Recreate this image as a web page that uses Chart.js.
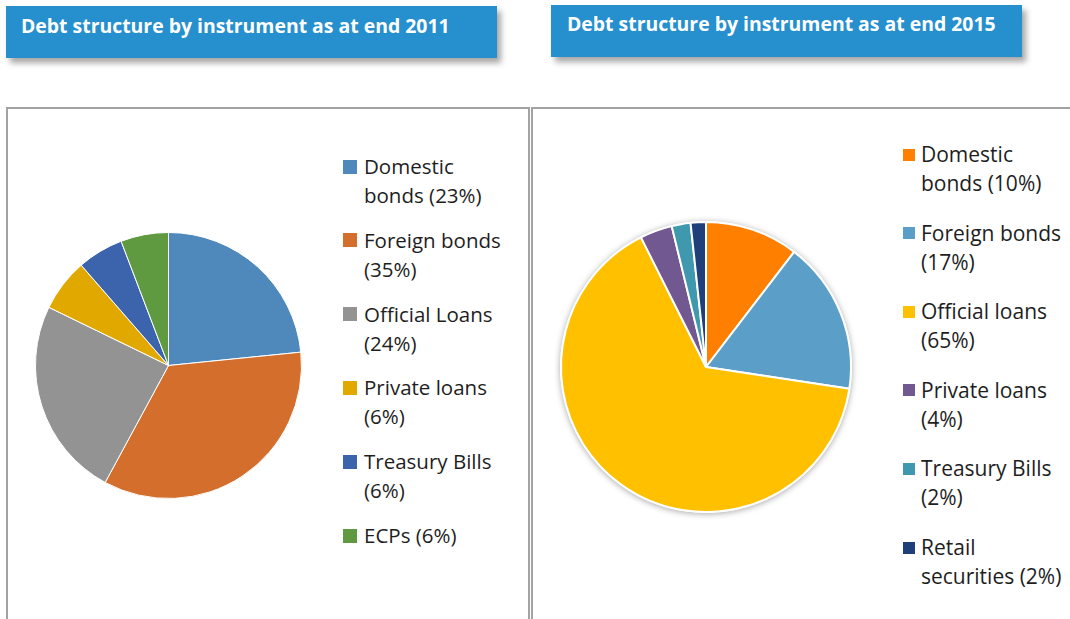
<!DOCTYPE html>
<html><head><meta charset="utf-8">
<script src="https://cdn.jsdelivr.net/npm/chart.js@4"></script>
<style>
html,body{margin:0;padding:0;background:#fff;width:1070px;height:619px;overflow:hidden;font-family:"Open Sans",Lato,sans-serif;}
.title{position:absolute;background:#268fce;color:#fff;font-weight:bold;font-size:17px;box-shadow:4px 5px 6px rgba(0,0,0,0.35);box-sizing:border-box;}
.title span{position:absolute;white-space:nowrap;line-height:20px;}
.frame{position:absolute;border:2px solid #a3a3a3;box-sizing:border-box;}
.cw{position:absolute;}
.leg{position:absolute;color:#1e1e1e;line-height:29px;}
.item{position:absolute;left:0;white-space:nowrap;}
.sw{position:absolute;}
.txt{position:absolute;}
</style></head><body>
<div class="title" style="left:6px;top:6px;width:491px;height:52px;"><span id="t1" style="left:15px;top:10px;"></span></div>
<div class="title" style="left:551px;top:5px;width:471px;height:52px;"><span id="t2" style="left:16px;top:9px;"></span></div>
<div class="frame" style="left:6px;top:107px;width:524px;height:530px;"></div>
<div class="frame" style="left:531px;top:107px;width:560px;height:530px;"></div>
<div class="cw" style="left:35px;top:232px;width:267px;height:267px;"><canvas id="c1"></canvas></div>
<div class="cw" style="left:550px;top:211px;width:312px;height:312px;"><canvas id="c2"></canvas></div>
<div class="leg" id="l1" style="left:343px;top:152px;font-size:20.5px;"></div>
<div class="leg" id="l2" style="left:903px;top:140px;font-size:21px;"></div>
<script>
const title2011 = "Debt structure by instrument as at end 2011";
const title2015 = "Debt structure by instrument as at end 2015";

const categories2011 = ["Domestic bonds", "Foreign bonds", "Official Loans", "Private loans", "Treasury Bills", "ECPs"];
const legendLines2011 = [["Domestic", "bonds (23%)"], ["Foreign bonds", "(35%)"], ["Official Loans", "(24%)"], ["Private loans", "(6%)"], ["Treasury Bills", "(6%)"], ["ECPs (6%)"]];
const values2011 = [23.4, 34.5, 24.3, 6.4, 5.6, 5.8];
const colors2011 = ["#4f89bc", "#d36e2d", "#939393", "#e1a900", "#3c64ad", "#5f9940"];

const categories2015 = ["Domestic bonds", "Foreign bonds", "Official loans", "Private loans", "Treasury Bills", "Retail securities"];
const legendLines2015 = [["Domestic", "bonds (10%)"], ["Foreign bonds", "(17%)"], ["Official loans", "(65%)"], ["Private loans", "(4%)"], ["Treasury Bills", "(2%)"], ["Retail", "securities (2%)"]];
const values2015 = [10.4, 17.0, 65.2, 3.6, 2.1, 1.7];
const colors2015 = ["#ff8000", "#5b9fc9", "#ffc000", "#725890", "#3f98ad", "#1f3f7b"];

document.getElementById('t1').textContent = title2011;
document.getElementById('t2').textContent = title2015;

// fit title text width to the reference (about 429px)
['t1','t2'].forEach(id => {
  const el = document.getElementById(id);
  const w = el.getBoundingClientRect().width;
  if (w > 0) el.style.fontSize = (17 * 429 / w).toFixed(2) + 'px';
});

function buildLegend(id, lines, colors, spacing, box, textX) {
  const el = document.getElementById(id);
  lines.forEach((ls, i) => {
    const it = document.createElement('div');
    it.className = 'item';
    it.style.top = (i * spacing) + 'px';
    const sw = document.createElement('div');
    sw.className = 'sw';
    sw.style.cssText = `left:0;top:${(29 - box) / 2}px;width:${box}px;height:${box}px;background:${colors[i]};`;
    const tx = document.createElement('div');
    tx.className = 'txt';
    tx.style.left = textX + 'px';
    tx.style.top = '0px';
    tx.innerHTML = ls.map(s => s.replace(/&/g, '&amp;').replace(/</g, '&lt;')).join('<br>');
    it.appendChild(sw); it.appendChild(tx);
    el.appendChild(it);
  });
}
buildLegend('l1', legendLines2011, colors2011, 73.8, 14, 21);
buildLegend('l2', legendLines2015, colors2015, 78.6, 12, 18);

const shadowPlugin = {
  id: 'pieShadow',
  beforeDatasetsDraw(chart, args, opts) {
    if (!opts.enabled) return;
    const arc = chart.getDatasetMeta(0).data[0];
    if (!arc) return;
    const ctx = chart.ctx;
    ctx.save();
    ctx.shadowColor = 'rgba(0,0,0,0.35)';
    ctx.shadowBlur = 6;
    ctx.shadowOffsetX = 0;
    ctx.shadowOffsetY = 1;
    ctx.beginPath();
    ctx.arc(arc.x, arc.y, arc.outerRadius + 1, 0, Math.PI * 2);
    ctx.fillStyle = '#ffffff';
    ctx.fill();
    ctx.restore();
  }
};

function makePie(id, labels, values, colors, bw, pad, shadow) {
  new Chart(document.getElementById(id), {
    type: 'pie',
    data: { labels: labels, datasets: [{ data: values, backgroundColor: colors, borderColor: '#ffffff', borderWidth: bw }] },
    options: {
      responsive: true, maintainAspectRatio: false, animation: false,
      layout: { padding: pad },
      plugins: { legend: { display: false }, tooltip: { enabled: false }, pieShadow: { enabled: shadow } }
    },
    plugins: [shadowPlugin]
  });
}
makePie('c1', categories2011, values2011, colors2011, 1, 0, false);
makePie('c2', categories2015, values2015, colors2015, 2, 10, true);
</script>
</body></html>
